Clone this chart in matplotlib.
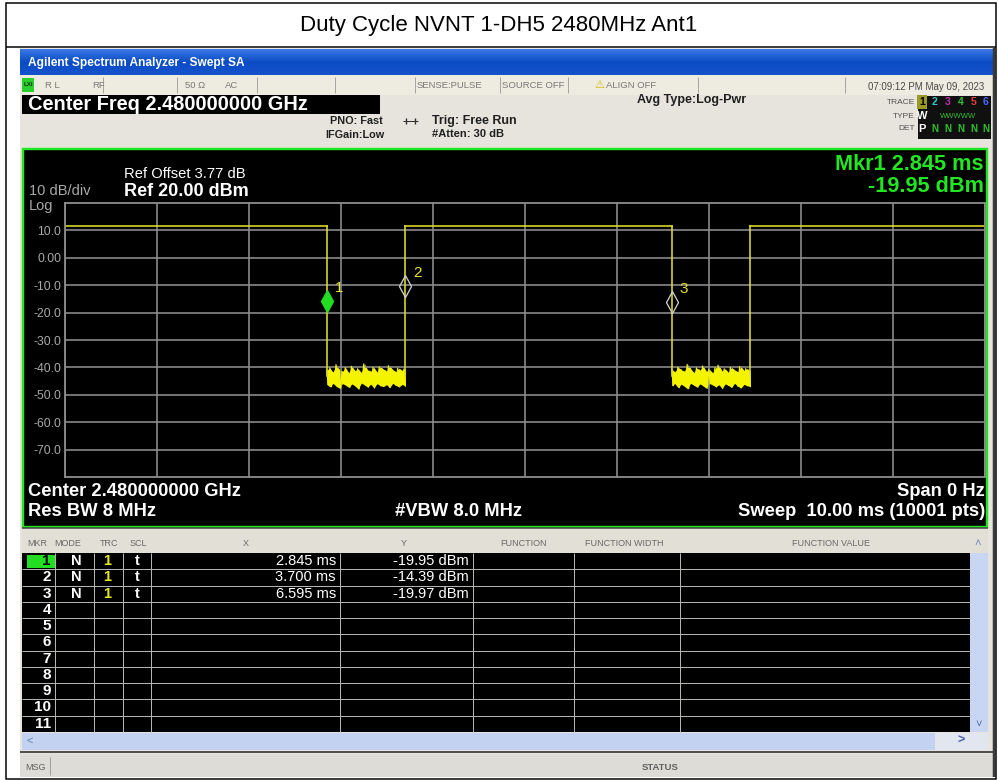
"""
Recreation of a spectrum analyzer screenshot: duty cycle of NVNT 1-DH5 at 2480 MHz.
The figure is laid out in pixel coordinates on a full-figure axes; the trace itself
lives in its own axes with time (ms) / level (dBm) scales.
"""
import matplotlib
matplotlib.use("Agg")
import matplotlib.pyplot as plt
import numpy as np
from matplotlib.colors import LinearSegmentedColormap
from matplotlib.patches import Rectangle
from matplotlib.path import Path

# ---- data ---------------------------------------------------------------
title = "Duty Cycle NVNT 1-DH5 2480MHz Ant1"

y_ticks = [10, 0, -10, -20, -30, -40, -50, -60, -70]
y_tick_labels = ["10.0", "0.00", "-10.0", "-20.0", "-30.0", "-40.0", "-50.0", "-60.0", "-70.0"]

# burst on-periods (ms) and their level (dBm)
burst_start_ms = [0.0, 3.700, 7.450]
burst_stop_ms = [2.845, 6.595, 10.0]
burst_level_dbm = 11.6

# noise floor between bursts, hand read top / bottom envelope (dBm)
gap1_hi = [-41.0, -40.2, -41.8, -39.0, -40.8, -41.5, -40.1, -42.0, -39.6, -41.2,
           -40.5, -41.9, -38.7, -40.9, -41.4, -40.0, -41.7, -39.8, -40.6, -41.3,
           -39.4, -40.8, -41.6, -40.3, -41.1, -40.6]
gap1_lo = [-46.2, -47.1, -45.8, -46.9, -47.6, -45.9, -46.5, -47.3, -46.0, -46.8,
           -47.9, -45.7, -46.4, -47.2, -46.1, -47.5, -45.9, -46.7, -47.0, -46.3,
           -47.4, -45.8, -46.6, -47.1, -46.2, -46.8]
gap2_hi = [-40.6, -41.7, -39.9, -40.8, -41.5, -38.9, -40.4, -41.9, -40.2, -41.0,
           -39.5, -41.4, -40.7, -42.0, -40.1, -39.2, -41.3, -40.5, -41.8, -40.0,
           -40.9, -41.6, -39.7, -41.1, -40.4, -41.2]
gap2_lo = [-46.7, -45.9, -47.4, -46.1, -46.9, -47.8, -45.8, -46.5, -47.2, -46.0,
           -46.8, -47.6, -45.9, -46.4, -47.1, -46.3, -47.7, -46.0, -46.6, -47.3,
           -45.8, -46.9, -47.5, -46.2, -46.7, -47.0]

marker_ids = [1, 2, 3]
marker_x_ms = [2.845, 3.700, 6.595]
marker_y_dbm = [-19.95, -14.39, -19.97]

trace_colors = ["#e8e800", "#30c8c8", "#c030b0", "#30c030", "#e04040", "#4a68ff"]

W, H = 998, 780
FONT = ["Liberation Sans", "DejaVu Sans"]
plt.rcParams["font.family"] = FONT

fig = plt.figure(figsize=(W / 100, H / 100), dpi=100, facecolor="white")
base = fig.add_axes([0, 0, 1, 1])
base.axis("off")


def px(p):
    return p * 0.72  # pixels -> points at 100 dpi


def box(x0, y0, x1, y1, fc="none", ec="none", lw=0.0, z=1):
    base.add_patch(Rectangle((x0, y0), x1 - x0, y1 - y0, facecolor=fc,
                             edgecolor=ec, linewidth=px(lw), zorder=z))


def txt(x, y, s, size=9, color="black", weight="normal", ha="left", va="center", z=5, **kw):
    base.text(x, y, s, fontsize=size, color=color, fontweight=weight,
              ha=ha, va=va, zorder=z, **kw)


def line(xs, ys, color, lw=1.0, z=3):
    base.plot(xs, ys, color=color, linewidth=px(lw), zorder=z, solid_capstyle="butt")


# ---- page frame and title -------------------------------------------------
box(6, 3, 996, 779, ec="black", lw=1.5, z=10)
line([6, 996], [47, 47], "black", 1.5, z=10)
txt(499, 25, title, size=16, ha="center")

# ---- analyzer window chrome ---------------------------------------------
box(20, 48, 995, 777, fc="#e6e4dc")
grad = np.linspace(0, 1, 30).reshape(-1, 1)
blue = LinearSegmentedColormap.from_list("bar", ["#3a78e6", "#0a4cc4", "#1652cc"])
base.imshow(grad, extent=[20, 993, 75, 49], cmap=blue, aspect="auto", zorder=2)
txt(28, 63, "Agilent Spectrum Analyzer - Swept SA", size=8.6, color="white", weight="bold")
line([994, 994], [48, 777], "#3a3a3a", 2.5, z=4)

# status row
box(20, 75, 993, 95, fc="#eeece0", z=2)
for xd in [103, 177, 257, 335, 415, 500, 568, 698, 845]:
    line([xd, xd], [77, 93], "#a8a6a0", 1.0)
box(22, 78, 34, 92, fc="#2ad02a", z=3)
txt(28, 85, "LXI", size=4.5, color="#103010", weight="bold", ha="center")
status_cells = [(45, "R L"), (92, "RF"), (185, "50 Ω"), (225, "AC"),
                (417, "SENSE:PULSE"), (502, "SOURCE OFF")]
for xs, s in status_cells:
    txt(xs, 85, s, size=6.8, color="#787878")
txt(594, 85, "⚠", size=8, color="#d8b400", weight="bold")
txt(606, 85, "ALIGN OFF", size=6.8, color="#787878")
txt(984, 87, "07:09:12 PM May 09, 2023", size=7, color="#4a4a4a", ha="right")

# header block
box(22, 95, 380, 114, fc="black", z=3)
txt(28, 104.5, "Center Freq 2.480000000 GHz", size=14.4, color="white", weight="bold")
txt(330, 121, "PNO: Fast", size=7.8, color="#202020", weight="bold")
txt(325, 135, "IFGain:Low", size=7.8, color="#202020", weight="bold")
line([403, 418], [121, 121], "#303030", 1.0)
base.plot([406, 415], [121, 121], ls="none", marker="|", ms=4, color="#303030", zorder=4)
txt(432, 121, "Trig: Free Run", size=9, color="#202020", weight="bold")
txt(432, 134, "#Atten: 30 dB", size=8, color="#202020", weight="bold")
txt(637, 100, "Avg Type:Log-Pwr", size=9, color="#202020", weight="bold")

# trace / type / det legend
box(918, 96, 991, 139, fc="#101010", z=3)
txt(915, 102, "TRACE", size=6, color="#505050", ha="right")
txt(915, 116, "TYPE", size=6, color="#505050", ha="right")
txt(915, 129, "DET", size=6, color="#505050", ha="right")
box(917, 95, 927, 109, fc="#9a9a20", z=4)
for i, c in enumerate(trace_colors):
    txt(922 + i * 12.8, 102, str(i + 1), size=7.5, color=("black" if i == 0 else c),
        weight="bold", ha="center", z=6)
txt(922, 116, "W", size=8, color="white", weight="bold", ha="center")
txt(958, 116, "WWWWW", size=5.5, color="#30c030", ha="center")
txt(922, 129, "P", size=8, color="white", weight="bold", ha="center")
for i in range(5):
    txt(935 + i * 12.8, 129, "N", size=7, color="#30c030", weight="bold", ha="center")

# ---- green-framed display --------------------------------------------------
box(23.5, 148.5, 987.5, 526.5, fc="black", ec="#22e622", lw=2.4, z=2)
txt(124, 174, "Ref Offset 3.77 dB", size=10.6, color="white")
txt(124, 192, "Ref 20.00 dBm", size=13, color="white", weight="bold")
txt(29, 191, "10 dB/div", size=10.5, color="#a8a8a8")
txt(29, 206, "Log", size=10.5, color="#a8a8a8")
txt(984, 165, f"Mkr{marker_ids[0]} {marker_x_ms[0]:.3f} ms", size=15.6, color="#22e622",
    weight="bold", ha="right")
txt(984, 187, f"{marker_y_dbm[0]:.2f} dBm", size=15.6, color="#22e622",
    weight="bold", ha="right")

txt(28, 492, "Center 2.480000000 GHz", size=13.2, color="white", weight="bold")
txt(28, 512, "Res BW 8 MHz", size=13.2, color="white", weight="bold")
txt(395, 512, "#VBW 8.0 MHz", size=13.2, color="white", weight="bold")
txt(985, 492, "Span 0 Hz", size=13.2, color="white", weight="bold", ha="right")
txt(985, 512, "Sweep  10.00 ms (10001 pts)", size=13.2, color="white", weight="bold", ha="right")

# ---- marker table ---------------------------------------------------------
box(22, 528, 988, 553, fc="#e2e0d6", z=2)
line([22, 988], [528, 528], "#404040", 1.5)
headers = [(27, "MKR"), (54, "MODE"), (100, "TRC"), (130, "SCL"), (243, "X"),
           (401, "Y"), (500, "FUNCTION"), (585, "FUNCTION WIDTH"), (792, "FUNCTION VALUE")]
for xh, s in headers:
    txt(xh, 543, s, size=6.5, color="#686868")
txt(978, 543, "˄", size=8, color="#7088c0", ha="center")

row_top, row_h, n_rows = 553, 16.25, 11
box(22, row_top, 970, row_top + row_h * n_rows, fc="black", z=2)
for i in range(1, n_rows):
    yy = row_top + row_h * i
    line([22, 970], [yy, yy], "#b4b4b0", 1.0)
for xv in [55, 94, 123, 151, 340, 473, 574, 680]:
    line([xv, xv], [row_top, row_top + row_h * n_rows], "#b4b4b0", 1.0)
box(27, row_top + 2, 55, row_top + row_h - 1, fc="#22dd22", z=3)
for i in range(n_rows):
    yc = row_top + row_h * (i + 0.5)
    txt(51, yc, str(i + 1), size=11, color=("black" if i == 0 else "white"),
        weight="bold", ha="right")
for i, (m, xm, ym) in enumerate(zip(marker_ids, marker_x_ms, marker_y_dbm)):
    yc = row_top + row_h * (i + 0.5)
    txt(76, yc, "N", size=10.5, color="white", weight="bold", ha="center")
    txt(107, yc, "1", size=10.5, color="#e8e820", weight="bold", ha="center")
    txt(137, yc, "t", size=10.5, color="white", weight="bold", ha="center")
    txt(336, yc, f"{xm:.3f} ms", size=10.5, color="white", ha="right")
    txt(469, yc, f"{ym:.2f} dBm", size=10.5, color="white", ha="right")

# scroll bars
box(970, row_top, 988, row_top + row_h * n_rows, fc="#c8d6f4", z=2)
txt(979, 724, "˅", size=8, color="#5070b0", ha="center")
box(22, 733, 970, 750, fc="#c4d2f2", z=2)
box(935, 733, 988, 750, fc="#e2e6ee", z=3)
txt(30, 741, "<", size=8, color="#6080b0", ha="center")
txt(961, 741, ">", size=9, color="#4060a8", weight="bold", ha="center")

# status bar
line([20, 993], [752, 752], "#505050", 2.0)
box(20, 754, 993, 777, fc="#dedcd6", z=2)
line([50, 50], [757, 775], "#a0a0a0", 1.0)
txt(25, 767, "MSG", size=6.5, color="#606060")
txt(642, 767, "STATUS", size=6.8, color="#606060", weight="bold")

base.set_xlim(0, W)
base.set_ylim(H, 0)

# ---- trace axes -------------------------------------------------------------
ax = fig.add_axes([65 / W, 1 - 477 / H, 920 / W, 274 / H])
ax.set_facecolor("black")
ax.set_xlim(0, 10)
ax.set_ylim(-80, 20)
ax.set_xticks(np.arange(0, 11, 1))
ax.set_yticks(y_ticks)
ax.set_yticklabels(y_tick_labels)
ax.tick_params(length=0, labelbottom=False, labelleft=True, pad=px(4),
               labelsize=8.8, labelcolor="#a8a8a8")
ax.grid(True, color="#8e8e8e", linewidth=px(1.6))
for sp in ax.spines.values():
    sp.set_color("#8e8e8e")
    sp.set_linewidth(px(1.8))

trace_c = "#dede28"
noise_c = "#f4f400"
for t0, t1 in zip(burst_start_ms, burst_stop_ms):
    ax.plot([t0, t1], [burst_level_dbm, burst_level_dbm], color=trace_c, lw=px(1.6))
gaps = [(gap1_hi, gap1_lo), (gap2_hi, gap2_lo)]
for (hi, lo), t_off, t_on in zip(gaps, burst_stop_ms[:-1], burst_start_ms[1:]):
    tt = np.linspace(t_off, t_on, len(hi))
    ax.fill_between(tt, lo, hi, color=noise_c, linewidth=0)
    # dense up/down sweep between the two envelopes, as the detector draws it
    t2 = np.linspace(t_off, t_on, 2 * len(hi))
    zig = np.ravel(np.column_stack([hi, lo]))
    ax.plot(t2, zig, color=noise_c, lw=px(1.2))
    for te in (t_off, t_on):
        ax.plot([te, te], [burst_level_dbm, -43], color=trace_c, lw=px(1.6))

# marker diamonds, tip sitting on the marker point
diamond = Path([(0, 0), (0.55, 1), (0, 2), (-0.55, 1), (0, 0)],
               [Path.MOVETO, Path.LINETO, Path.LINETO, Path.LINETO, Path.CLOSEPOLY])
for m, xm, ym in zip(marker_ids, marker_x_ms, marker_y_dbm):
    active = m == 1
    ax.plot(xm, ym, marker=diamond, ms=31.5, ls="none",
            mfc=("#22dd22" if active else "none"),
            mec=("#22dd22" if active else "#cfcfcf"), mew=px(1.3), zorder=5)
    ax.annotate(str(m), (xm, ym), xytext=(px(12), px(24)), textcoords="offset points",
                fontsize=11, color="#e6e628", ha="center", va="center", zorder=6)

fig.savefig("out.png", dpi=100, facecolor="white")
